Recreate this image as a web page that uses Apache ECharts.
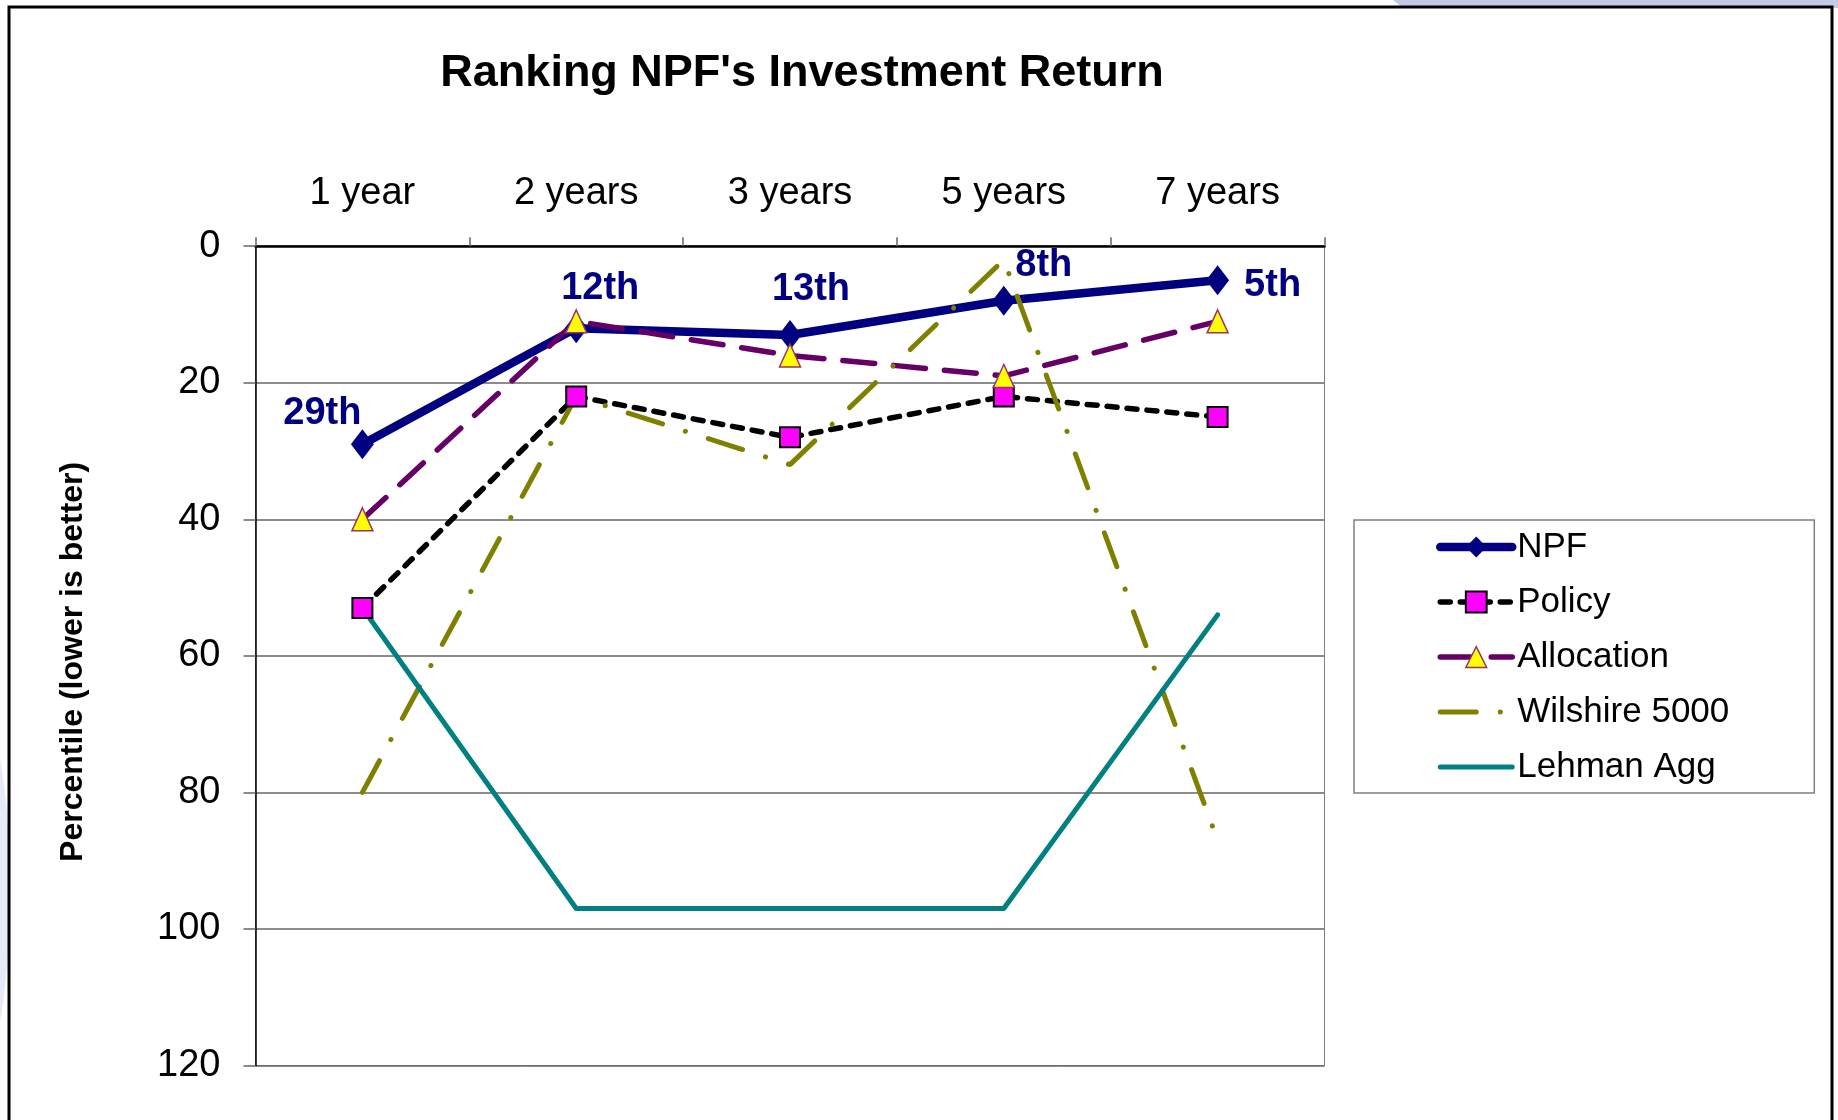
<!DOCTYPE html>
<html>
<head>
<meta charset="utf-8">
<title>Ranking NPF's Investment Return</title>
<script src="https://cdn.jsdelivr.net/npm/echarts@6/dist/echarts.min.js"></script>
<style>
  html, body { margin: 0; padding: 0; background: #ffffff; }
  #chart { width: 1838px; height: 1120px; }
</style>
</head>
<body>
<div id="chart"></div>
<script>
// values (percentile rank, lower is better)
const categories = ['1 year', '2 years', '3 years', '5 years', '7 years'];
const npf = [29, 12, 13, 8, 5];
const policy = [53, 22, 28, 22, 25];
const allocation = [40, 11, 16, 19, 11];
const wilshire = [80, 22, 32, 2, 87];
const lehman = [53, 97, 97, 97, 54];
const npfRankLabels = ['29th', '12th', '13th', '8th', '5th'];
const yTicks = { min: 0, max: 120, step: 20 };

// where each rank label sits relative to its point (style only)
const rankLabelOffsets = [[-40, -31], [24, -40], [21, -45], [40, -35], [55, 5]];

const FONT = 'Liberation Sans, Arial, sans-serif';

const chart = echarts.init(document.getElementById('chart'));

const npfData = npf.map((v, i) => ({
  value: v,
  label: {
    show: true,
    position: 'inside',
    offset: rankLabelOffsets[i],
    formatter: npfRankLabels[i],
  },
}));

const option = {
  animation: false,
  backgroundColor: '#ffffff',
  title: {
    text: "Ranking NPF's Investment Return",
    left: 802,
    top: 51,
    textAlign: 'center',
    padding: 0,
    textStyle: { fontFamily: FONT, fontSize: 45, fontWeight: 'bold', color: '#000000' },
  },
  graphic: [
    // slide decoration peeking round the frame
    { type: 'polygon', silent: true, z: -10,
      shape: { points: [[1393, 0], [1838, 0], [1838, 8], [1403, 8]] },
      style: { fill: '#c3cae6' } },
    { type: 'ellipse', silent: true, z: -10,
      shape: { cx: -30, cy: 890, rx: 40, ry: 200 },
      style: { fill: '#e7e9f5' } },
    { type: 'rect', silent: true, z: -5,
      shape: { x: 9, y: 7, width: 1823, height: 1140 },
      style: { fill: null, stroke: '#000000', lineWidth: 3 } },
  ],
  legend: {
    orient: 'vertical',
    left: 1354,
    top: 520,
    padding: [7, 85, 6, 82],
    itemWidth: 72,
    itemHeight: 26,
    itemGap: 15,
    backgroundColor: '#ffffff',
    borderColor: '#808080',
    borderWidth: 1.5,
    borderRadius: 0,
    lineStyle: { width: 'inherit' },
    itemStyle: { borderWidth: 'inherit' },
    textStyle: { fontFamily: FONT, fontSize: 35, color: '#000000', lineHeight: 40 },
    data: [
      'NPF',
      'Policy',
      'Allocation',
      { name: 'Wilshire 5000', itemStyle: { opacity: 0 } },
      { name: 'Lehman Agg', itemStyle: { opacity: 0 } },
    ],
  },
  grid: {
    left: 255.5,
    top: 246.2,
    width: 1069,
    height: 819.3,
    show: true,
    borderColor: '#808080',
    borderWidth: 1,
    backgroundColor: 'transparent',
  },
  xAxis: {
    type: 'category',
    position: 'top',
    data: categories,
    boundaryGap: true,
    axisLine: { lineStyle: { color: '#000000', width: 2.5 } },
    axisTick: { show: true, length: 9, lineStyle: { color: '#666666', width: 1.5 } },
    axisLabel: { fontFamily: FONT, fontSize: 38, color: '#000000', margin: 34 },
  },
  yAxis: {
    type: 'value',
    inverse: true,
    min: yTicks.min,
    max: yTicks.max,
    interval: yTicks.step,
    name: 'Percentile (lower is better)',
    nameLocation: 'middle',
    nameGap: 166,
    nameRotate: 90,
    nameTextStyle: {
      fontFamily: FONT, fontSize: 32, fontWeight: 'bold', color: '#000000',
      padding: [0, 12, 0, 0],
    },
    axisLine: { show: true, lineStyle: { color: '#000000', width: 1.5 } },
    axisTick: { show: true, length: 12, lineStyle: { color: '#666666', width: 1.5 } },
    axisLabel: { fontFamily: FONT, fontSize: 38, color: '#000000', margin: 35 },
    splitLine: { show: true, lineStyle: { color: '#666666', width: 1.5 } },
  },
  series: [
    {
      name: 'NPF',
      type: 'line',
      data: npfData,
      symbol: 'diamond',
      symbolSize: [23, 30],
      lineStyle: { color: '#000080', width: 8.5, cap: 'round', join: 'round' },
      itemStyle: { color: '#000080', borderWidth: 0 },
      label: {
        fontFamily: FONT,
        fontSize: 38,
        fontWeight: 'bold',
        color: '#000080',
      },
    },
    {
      name: 'Policy',
      type: 'line',
      data: policy,
      symbol: 'rect',
      symbolSize: 20,
      lineStyle: { color: '#000000', width: 5.5, type: [10, 10], cap: 'round' },
      itemStyle: { color: '#ff00ff', borderColor: '#000000', borderWidth: 2 },
    },
    {
      name: 'Allocation',
      type: 'line',
      data: allocation,
      symbol: 'triangle',
      symbolSize: [21, 23],
      lineStyle: { color: '#660066', width: 5.5, type: [32, 19], cap: 'round' },
      itemStyle: { color: '#ffff00', borderColor: '#993366', borderWidth: 1.5 },
    },
    {
      name: 'Wilshire 5000',
      type: 'line',
      data: wilshire,
      symbol: 'none',
      lineStyle: { color: '#808000', width: 5, type: [36, 24, 0.1, 24], cap: 'round' },
      itemStyle: { color: '#808000' },
    },
    {
      name: 'Lehman Agg',
      type: 'line',
      data: lehman,
      symbol: 'none',
      lineStyle: { color: '#008080', width: 5, cap: 'round', join: 'round' },
      itemStyle: { color: '#008080' },
    },
  ],
};

chart.setOption(option);
</script>
</body>
</html>
